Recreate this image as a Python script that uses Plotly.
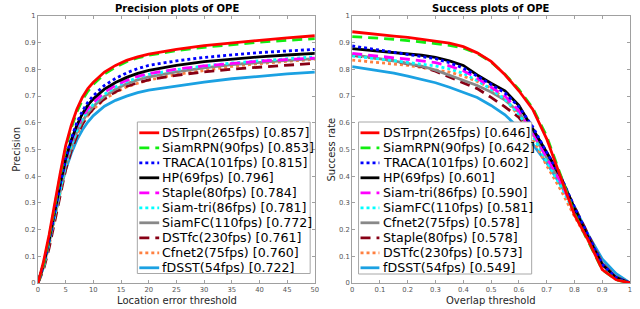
import plotly.graph_objects as go

# ---------------- data ----------------
prec_x = [0, 1, 2, 3, 4, 5, 6, 7, 8, 9, 10, 12, 14, 16, 18, 20, 25, 30, 35, 40, 45, 50]
prec_labels = ["DSTrpn(265fps) [0.857]", "SiamRPN(90fps) [0.853]", "TRACA(101fps) [0.815]",
               "HP(69fps) [0.796]", "Staple(80fps) [0.784]", "Siam-tri(86fps) [0.781]",
               "SiamFC(110fps) [0.772]", "DSTfc(230fps) [0.761]", "Cfnet2(75fps) [0.760]",
               "fDSST(54fps) [0.722]"]
prec_dstrpn = [0, 0.08, 0.18, 0.30, 0.41, 0.515, 0.59, 0.65, 0.695, 0.728, 0.752, 0.79, 0.815, 0.834, 0.847, 0.857, 0.875, 0.889, 0.900, 0.909, 0.918, 0.926]
prec_siamrpn = [0, 0.07, 0.17, 0.29, 0.40, 0.505, 0.58, 0.64, 0.685, 0.718, 0.744, 0.783, 0.809, 0.829, 0.843, 0.853, 0.870, 0.883, 0.893, 0.902, 0.909, 0.915]
prec_traca = [0, 0.07, 0.16, 0.27, 0.37, 0.47, 0.54, 0.60, 0.643, 0.677, 0.702, 0.74, 0.766, 0.787, 0.803, 0.815, 0.832, 0.845, 0.855, 0.863, 0.869, 0.875]
prec_hp = [0, 0.07, 0.16, 0.27, 0.37, 0.465, 0.535, 0.59, 0.633, 0.666, 0.69, 0.726, 0.751, 0.770, 0.785, 0.796, 0.815, 0.829, 0.839, 0.847, 0.854, 0.860]
prec_staple = [0, 0.07, 0.16, 0.27, 0.37, 0.46, 0.53, 0.585, 0.623, 0.653, 0.676, 0.714, 0.74, 0.759, 0.774, 0.784, 0.801, 0.813, 0.823, 0.831, 0.837, 0.842]
prec_siamtri = [0, 0.06, 0.15, 0.25, 0.35, 0.445, 0.515, 0.57, 0.612, 0.645, 0.67, 0.707, 0.734, 0.754, 0.769, 0.781, 0.799, 0.813, 0.824, 0.833, 0.840, 0.847]
prec_siamfc = [0, 0.06, 0.15, 0.25, 0.35, 0.44, 0.51, 0.565, 0.605, 0.637, 0.662, 0.699, 0.726, 0.746, 0.761, 0.772, 0.791, 0.806, 0.818, 0.827, 0.834, 0.840]
prec_dstfc = [0, 0.05, 0.13, 0.23, 0.33, 0.425, 0.495, 0.55, 0.594, 0.628, 0.653, 0.69, 0.716, 0.736, 0.75, 0.761, 0.778, 0.791, 0.801, 0.809, 0.817, 0.823]
prec_cfnet2 = [0, 0.06, 0.14, 0.24, 0.34, 0.435, 0.50, 0.555, 0.595, 0.627, 0.651, 0.688, 0.714, 0.734, 0.748, 0.760, 0.781, 0.797, 0.811, 0.822, 0.831, 0.838]
prec_fdsst = [0, 0.07, 0.155, 0.25, 0.345, 0.425, 0.485, 0.535, 0.573, 0.603, 0.627, 0.662, 0.684, 0.700, 0.713, 0.722, 0.738, 0.752, 0.765, 0.775, 0.783, 0.790]

succ_x = [0, 0.05, 0.1, 0.15, 0.2, 0.25, 0.3, 0.35, 0.4, 0.45, 0.5, 0.55, 0.6, 0.65, 0.7, 0.75, 0.8, 0.85, 0.9, 0.95, 1.0]
succ_labels = ["DSTrpn(265fps) [0.646]", "SiamRPN(90fps) [0.642]", "TRACA(101fps) [0.602]",
               "HP(69fps) [0.601]", "Siam-tri(86fps) [0.590]", "SiamFC(110fps) [0.581]",
               "Cfnet2(75fps) [0.578]", "Staple(80fps) [0.578]", "DSTfc(230fps) [0.573]",
               "fDSST(54fps) [0.549]"]
succ_dstrpn = [0.941, 0.935, 0.93, 0.925, 0.92, 0.913, 0.906, 0.898, 0.885, 0.862, 0.83, 0.78, 0.72, 0.65, 0.54, 0.40, 0.255, 0.16, 0.05, 0.012, 0]
succ_siamrpn = [0.923, 0.92, 0.917, 0.913, 0.908, 0.903, 0.897, 0.89, 0.88, 0.86, 0.828, 0.782, 0.725, 0.655, 0.55, 0.405, 0.26, 0.155, 0.05, 0.012, 0]
succ_traca = [0.888, 0.88, 0.872, 0.865, 0.858, 0.85, 0.84, 0.825, 0.805, 0.775, 0.745, 0.712, 0.66, 0.585, 0.49, 0.40, 0.285, 0.175, 0.07, 0.02, 0]
succ_hp = [0.878, 0.873, 0.868, 0.863, 0.858, 0.853, 0.845, 0.832, 0.815, 0.779, 0.748, 0.72, 0.665, 0.58, 0.49, 0.40, 0.28, 0.17, 0.07, 0.02, 0]
succ_siamtri = [0.86, 0.855, 0.849, 0.844, 0.838, 0.832, 0.825, 0.813, 0.795, 0.767, 0.735, 0.70, 0.645, 0.565, 0.47, 0.38, 0.27, 0.165, 0.07, 0.02, 0]
succ_siamfc = [0.85, 0.845, 0.84, 0.833, 0.826, 0.82, 0.813, 0.802, 0.785, 0.758, 0.726, 0.688, 0.632, 0.552, 0.455, 0.365, 0.262, 0.162, 0.07, 0.02, 0]
succ_cfnet2 = [0.855, 0.848, 0.84, 0.832, 0.822, 0.812, 0.797, 0.778, 0.76, 0.74, 0.715, 0.685, 0.64, 0.56, 0.47, 0.375, 0.275, 0.17, 0.075, 0.022, 0]
succ_staple = [0.853, 0.847, 0.84, 0.832, 0.822, 0.81, 0.793, 0.772, 0.75, 0.728, 0.695, 0.66, 0.62, 0.56, 0.48, 0.39, 0.285, 0.18, 0.075, 0.022, 0]
succ_dstfc = [0.835, 0.83, 0.825, 0.82, 0.815, 0.807, 0.798, 0.79, 0.775, 0.755, 0.73, 0.69, 0.625, 0.54, 0.44, 0.35, 0.25, 0.155, 0.065, 0.018, 0]
succ_fdsst = [0.81, 0.802, 0.795, 0.786, 0.775, 0.763, 0.75, 0.733, 0.713, 0.695, 0.665, 0.63, 0.58, 0.52, 0.45, 0.37, 0.285, 0.18, 0.09, 0.035, 0]

prec_series = [prec_dstrpn, prec_siamrpn, prec_traca, prec_hp, prec_staple, prec_siamtri,
               prec_siamfc, prec_dstfc, prec_cfnet2, prec_fdsst]
succ_series = [succ_dstrpn, succ_siamrpn, succ_traca, succ_hp, succ_siamtri, succ_siamfc,
               succ_cfnet2, succ_staple, succ_dstfc, succ_fdsst]

prec_ticks = [0, 5, 10, 15, 20, 25, 30, 35, 40, 45, 50]
succ_ticks = [0, 0.1, 0.2, 0.3, 0.4, 0.5, 0.6, 0.7, 0.8, 0.9, 1]
y_ticks = [0, 0.1, 0.2, 0.3, 0.4, 0.5, 0.6, 0.7, 0.8, 0.9, 1]

# ---------------- styles (by rank) ----------------
colors = ["#FF0000", "#11EE11", "#0000FF", "#000000", "#FF00FF", "#00FFFF",
          "#888888", "#880015", "#FF8040", "#1BA1E2"]
dashes = ["solid", "10px,6px", "3px,3px", "solid", "10px,6px", "3px,3px",
          "solid", "10px,6px", "3px,3px", "solid"]
LW = 2.8

W, H = 640, 309
ML, MR, MT, MB = 38, 6, 16, 26
PW, PH = W - ML - MR, H - MT - MB


def px(xp):
    return (xp - ML) / PW


def py(yp):
    return (H - MB - yp) / PH


fig = go.Figure()

for i in reversed(range(10)):
    fig.add_trace(go.Scatter(x=prec_x, y=prec_series[i], mode="lines", xaxis="x", yaxis="y",
                             line=dict(color=colors[i], width=LW, dash=dashes[i]),
                             showlegend=False, hoverinfo="skip"))
    fig.add_trace(go.Scatter(x=succ_x, y=succ_series[i], mode="lines", xaxis="x2", yaxis="y2",
                             line=dict(color=colors[i], width=LW, dash=dashes[i]),
                             showlegend=False, hoverinfo="skip"))

axcol = "#A0A0A0"
tickfont = dict(family="DejaVu Sans", size=6.8, color="#555555")
common = dict(showline=True, linecolor=axcol, linewidth=1, mirror="ticks", ticks="inside",
              ticklen=3, tickcolor=axcol, showgrid=False, zeroline=False, tickfont=tickfont)

d1 = [0, px(316.7)]
d2 = [px(354.3), 1]

fig.update_layout(
    width=W, height=H, margin=dict(l=ML, r=MR, t=MT, b=MB),
    paper_bgcolor="white", plot_bgcolor="white", showlegend=False,
    xaxis=dict(domain=d1, range=[0, 50], tickvals=prec_ticks, anchor="y", **common),
    yaxis=dict(domain=[0, 1], range=[0, 1], tickvals=y_ticks, anchor="x", **common),
    xaxis2=dict(domain=d2, range=[0, 1], tickvals=succ_ticks, anchor="y2", **common),
    yaxis2=dict(domain=[0, 1], range=[0, 1], tickvals=y_ticks, anchor="x2", **common),
)

ann = []
shapes = []
txtfont = dict(family="DejaVu Sans", size=10, color="#262626")
ann.append(dict(text="<b>Precision plots of OPE</b>", x=px(177.5), y=py(9), xref="paper", yref="paper",
                showarrow=False, xanchor="center", yanchor="middle",
                font=dict(family="DejaVu Sans", size=10, color="#000000")))
ann.append(dict(text="<b>Success plots of OPE</b>", x=px(494.3), y=py(9), xref="paper", yref="paper",
                showarrow=False, xanchor="center", yanchor="middle",
                font=dict(family="DejaVu Sans", size=10, color="#000000")))
ann.append(dict(text="Location error threshold", x=px(177.5), y=py(300.5), xref="paper", yref="paper",
                showarrow=False, xanchor="center", yanchor="middle", font=txtfont))
ann.append(dict(text="Overlap threshold", x=px(494.3), y=py(300.5), xref="paper", yref="paper",
                showarrow=False, xanchor="center", yanchor="middle", font=txtfont))
ann.append(dict(text="Precision", x=px(16), y=py(149.5), xref="paper", yref="paper", textangle=-90,
                showarrow=False, xanchor="center", yanchor="middle", font=txtfont))
ann.append(dict(text="Success rate", x=px(333), y=py(149.5), xref="paper", yref="paper", textangle=-90,
                showarrow=False, xanchor="center", yanchor="middle", font=txtfont))


def add_legend(labels, box, line_x0, line_x1, text_x):
    bx0, by0, bx1, by1 = box
    shapes.append(dict(type="rect", xref="paper", yref="paper", x0=px(bx0), x1=px(bx1),
                       y0=py(by1), y1=py(by0), line=dict(color="#A8A8A8", width=1),
                       fillcolor="white", layer="above"))
    for i, lab in enumerate(labels):
        yc = 132.8 + 15.0 * i
        shapes.append(dict(type="line", xref="paper", yref="paper", x0=px(line_x0), x1=px(line_x1),
                           y0=py(yc), y1=py(yc), layer="above",
                           line=dict(color=colors[i], width=LW, dash=dashes[i])))
        ann.append(dict(text=lab, x=px(text_x), y=py(yc), xref="paper", yref="paper",
                        showarrow=False, xanchor="left", yanchor="middle",
                        font=dict(family="DejaVu Sans", size=12.6, color="#000000")))


add_legend(prec_labels, (138, 122, 312, 273.5), 140, 160, 160.5)
add_legend(succ_labels, (360.7, 122, 535, 274), 362.7, 381.7, 383)

fig.update_layout(annotations=ann, shapes=shapes)
fig.write_html("out.html", config={"displayModeBar": False},
               post_script="document.body.style.margin='0';document.body.style.padding='0';")
